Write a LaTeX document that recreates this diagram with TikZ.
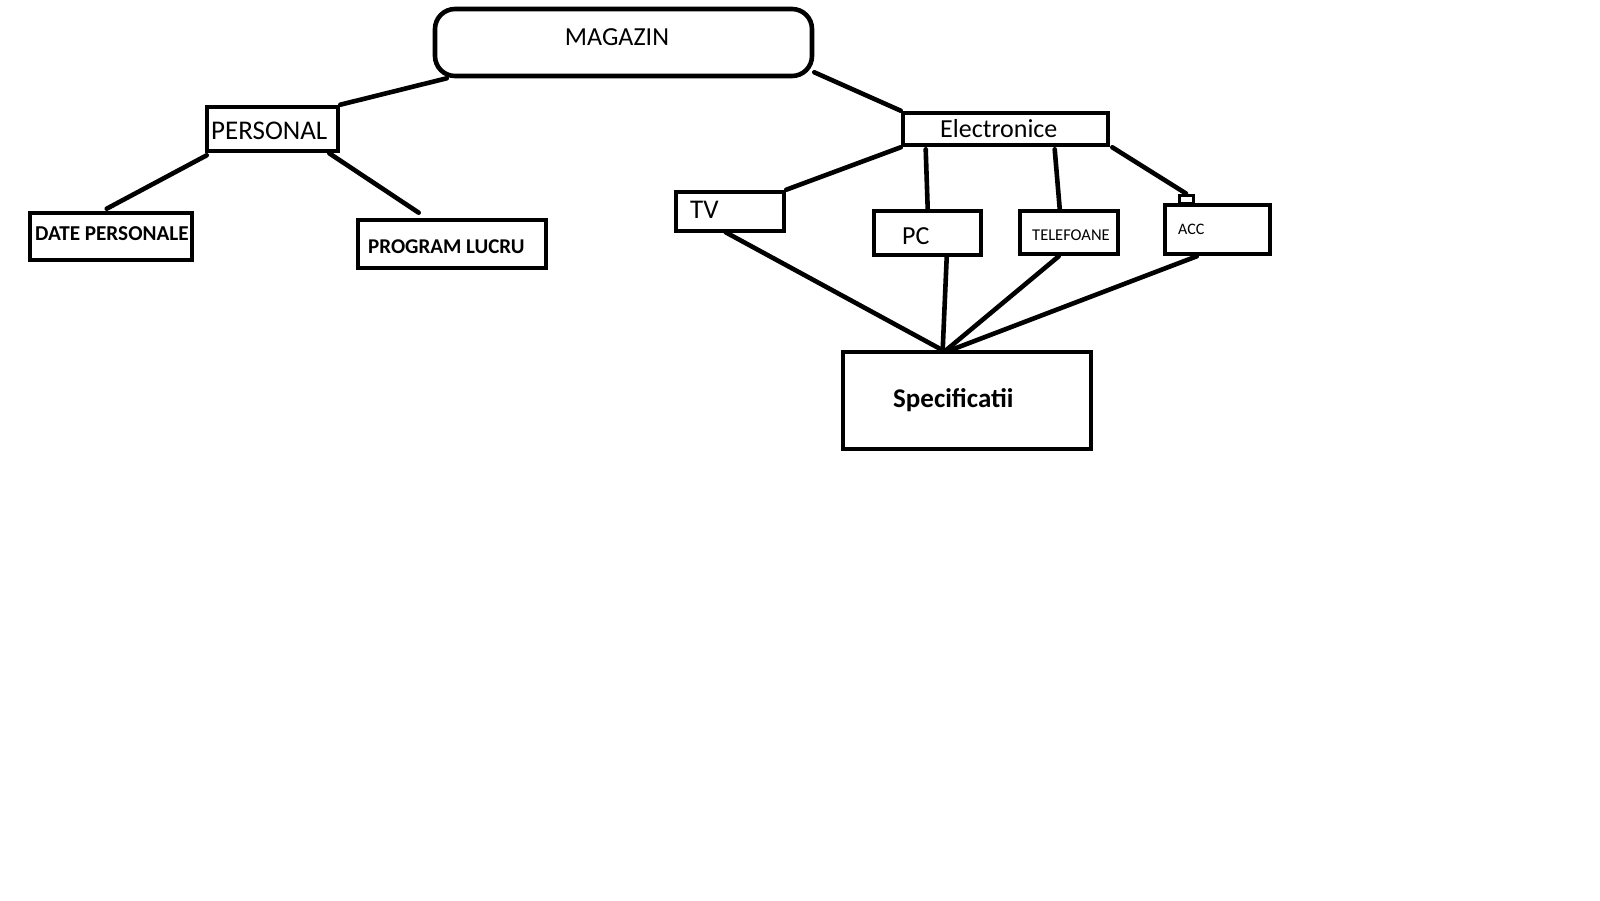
\documentclass[tikz,border=0pt]{standalone}
\usepackage{fontspec}
\setmainfont{Carlito}
\usetikzlibrary{calc}
\begin{document}
\begin{tikzpicture}[x=1pt,y=-1pt,
  box/.style={draw,line width=4.6pt,rectangle,inner sep=0pt},
  lbl/.style={inner sep=0pt,anchor=base west},
  link/.style={line width=4.6pt,line cap=round}]
\useasboundingbox[fill=white] (0,0) rectangle (1600,900);

% boxes
\node[box,rounded corners=20pt,minimum width=377pt,minimum height=67pt] (mag) at (623.5,42.5) {};
\node[box,minimum width=131pt,minimum height=44pt] (pers) at (272.5,129) {};
\node[box,minimum width=162pt,minimum height=47pt] (date) at (111,236.5) {};
\node[box,minimum width=188pt,minimum height=48pt] (prog) at (452,244) {};
\node[box,minimum width=205pt,minimum height=32pt] (elec) at (1005.5,129) {};
\node[box,minimum width=108pt,minimum height=39pt] (tv) at (730,211.5) {};
\node[box,minimum width=107pt,minimum height=44pt] (pc) at (927.5,233) {};
\node[box,minimum width=98pt,minimum height=43pt] (tel) at (1069,232.5) {};
\node[box,minimum width=105pt,minimum height=49pt] (acc) at (1217.5,229.5) {};
\node[box,line width=3pt,minimum width=14pt,minimum height=8pt] (tab) at (1186,199) {};
\node[box,minimum width=248pt,minimum height=97pt] (spec) at (967,400.5) {};

% labels
\node[inner sep=0pt,anchor=base,font=\fontsize{26}{30}\selectfont] (tmag) at (617,45) {MAGAZIN};
\node[lbl,font=\fontsize{27}{30}\selectfont] (tpers) at (211,139) {PERSONAL};
\node[lbl,font=\fontsize{26}{30}\selectfont] (telec) at (940,137) {Electronice};
\node[lbl,font=\fontsize{27}{30}\selectfont] (ttv) at (690,218) {TV};
\node[lbl,font=\fontsize{26}{30}\selectfont] (tpc) at (902,244) {PC};
\node[lbl,font=\fontsize{16.5}{20}\selectfont] (ttel) at (1032,240) {TELEFOANE};
\node[lbl,font=\fontsize{16}{20}\selectfont] (tacc) at (1178,234) {ACC};
\node[lbl,font=\bfseries\fontsize{21.2}{24}\selectfont] (tdate) at (35,240) {DATE PERSONALE};
\node[lbl,font=\bfseries\fontsize{21}{24}\selectfont] (tprog) at (368,253) {PROGRAM LUCRU};
\node[lbl,font=\bfseries\fontsize{27}{30}\selectfont] (tspec) at (893,407) {Specificatii};

% connectors
\draw[link] ($(mag.south west)+(14,0)$) -- (pers.north east);
\draw[link] ($(mag.south east)+(0,-6)$) -- (elec.north west);
\draw[link] ($(pers.south west)+(2,2)$) -- ($(date.north west)+(79,-2)$);
\draw[link] ($(pers.south east)+(-11,0)$) -- ($(prog.north west)+(63,-5)$);
\draw[link] (elec.south west) -- (tv.north east);
\draw[link] ($(elec.south west)+(25,2)$) -- ($(pc.north west)+(56,0)$);
\draw[link] ($(elec.south west)+(154,2)$) -- ($(tel.north west)+(42,0)$);
\draw[link] ($(elec.south east)+(2,0)$) -- (tab.north);
\draw[link] ($(tv.south west)+(52,-1)$) -- ($(spec.north west)+(101,0)$);
\draw[link] ($(pc.south west)+(75,0)$) -- ($(spec.north west)+(102,0)$);
\draw[link] ($(tel.south west)+(41,0)$) -- ($(spec.north west)+(106,0)$);
\draw[link] ($(acc.south west)+(34,0)$) -- ($(spec.north west)+(111,0)$);
\end{tikzpicture}
\end{document}
